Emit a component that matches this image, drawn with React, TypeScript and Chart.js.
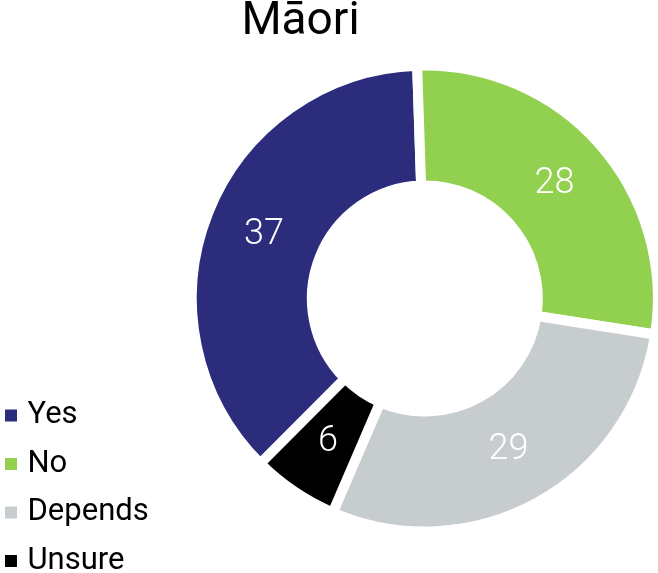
import { useEffect, useRef } from 'react';
import { Chart, registerables } from 'chart.js';

Chart.register(...registerables);

const TITLE = 'Māori';
const CATEGORIES = ['Yes', 'No', 'Depends', 'Unsure'];
const VALUES = [37, 28, 29, 6];
const COLORS = ['#2B2C7C', '#92D050', '#C7CCCF', '#000000'];

export default function App() {
  const ref = useRef<HTMLCanvasElement>(null);

  useEffect(() => {
    const canvas = ref.current;
    if (!canvas) return;

    const titlePlugin = {
      id: 'offsetTitle',
      afterDraw(chart: any) {
        const ctx = chart.ctx;
        ctx.save();
        ctx.font = '400 46px Roboto, "Noto Sans", sans-serif';
        ctx.fillStyle = '#000000';
        ctx.textAlign = 'center';
        ctx.textBaseline = 'middle';
        ctx.fillText(TITLE, 300.5, 22);
        ctx.restore();
      },
    };

    const valueLabels = {
      id: 'valueLabels',
      afterDatasetsDraw(chart: any) {
        const ctx = chart.ctx;
        const meta = chart.getDatasetMeta(0);
        ctx.save();
        ctx.font = '300 36px Roboto, "Noto Sans", sans-serif';
        ctx.fillStyle = '#ffffff';
        ctx.textAlign = 'center';
        ctx.textBaseline = 'middle';
        meta.data.forEach((arc: any, i: number) => {
          const p = arc.tooltipPosition(false);
          ctx.fillText(String(VALUES[i]), p.x, p.y);
        });
        ctx.restore();
      },
    };

    const chart = new Chart(canvas, {
      type: 'doughnut',
      data: {
        labels: CATEGORIES,
        datasets: [
          {
            data: VALUES,
            backgroundColor: COLORS,
            borderColor: '#ffffff',
            borderWidth: 10,
            hoverOffset: 0,
            radius: 233,
            cutout: '48.5%',
          } as any,
        ],
      },
      options: {
        responsive: false,
        animation: false,
        rotation: -135.1,
        layout: { padding: { left: -7.5, right: 0, top: 3, bottom: 0 } },
        plugins: {
          title: { display: false },
          tooltip: { enabled: false },
          legend: {
            position: 'left',
            align: 'end',
            fullSize: false,
            labels: {
              usePointStyle: true,
              pointStyle: 'rect',
              boxWidth: 2,
              boxHeight: 12,
              padding: 17.5,
              color: '#111111',
              font: { family: 'Roboto, "Noto Sans", sans-serif', size: 31, weight: 400 },
              generateLabels: () =>
                CATEGORIES.map((c, i) => ({
                  text: c,
                  fillStyle: COLORS[i],
                  strokeStyle: COLORS[i],
                  lineWidth: 0,
                  hidden: false,
                  index: i,
                  pointStyle: 'rect',
                })),
            },
          },
        },
      } as any,
      plugins: [valueLabels, titlePlugin],
    });

    return () => chart.destroy();
  }, []);

  return (
    <div
      style={{
        position: 'fixed',
        left: 0,
        top: 0,
        width: 658,
        height: 573,
        overflow: 'hidden',
        background: '#ffffff',
      }}
    >
      <canvas ref={ref} width={691} height={594} style={{ display: 'block' }} />
    </div>
  );
}
